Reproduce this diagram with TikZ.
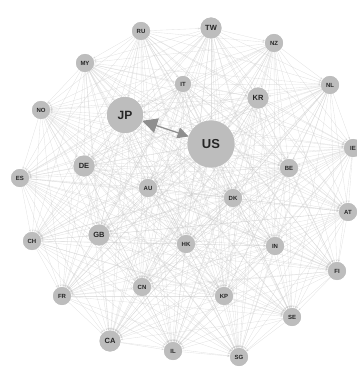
\documentclass[tikz,border=0pt]{standalone}
\usepackage{fontspec}
\setmainfont{Liberation Sans}
\usetikzlibrary{arrows.meta}
\definecolor{nodegray}{HTML}{BDBDBD}
\definecolor{edgegray}{HTML}{C8C8C8}
\definecolor{arrowgray}{HTML}{8E8E8E}
\tikzset{
  cn/.style={circle, fill=nodegray, inner sep=0pt, minimum size=18pt, font=\bfseries\fontsize{6}{6}\selectfont, text=black!85},
  cnm/.style={cn, minimum size=21pt, font=\bfseries\fontsize{7.5}{7.5}\selectfont},
  cnb/.style={cn, minimum size=36pt, font=\bfseries\fontsize{12}{12}\selectfont},
  cnbb/.style={cn, minimum size=47pt, font=\bfseries\fontsize{13}{13}\selectfont},
  lnk/.style={draw=edgegray, line width=0.35pt, opacity=0.5, -{Stealth[length=2.5pt,width=2pt]}},
  big/.style={draw=arrowgray, line width=1.2pt, {Triangle[length=15pt,width=15pt]}-{Triangle[length=11pt,width=11pt]}}
}
\begin{document}
\begin{tikzpicture}[x=1pt,y=-1pt]
\useasboundingbox (0,0) rectangle (356,374);
% nodes
\node[cn]   (RU) at (141,31) {RU};
\node[cnm]  (TW) at (211,28) {TW};
\node[cn]   (NZ) at (274,43) {NZ};
\node[cn]   (MY) at (85,63) {MY};
\node[cn, minimum size=16pt]   (IT) at (183,84) {IT};
\node[cn]   (NL) at (330,85) {NL};
\node[cnm]  (KR) at (258,98) {KR};
\node[cnb]  (JP) at (125,115) {JP};
\node[cnbb] (US) at (211,144) {US};
\node[cn]   (NO) at (41,110) {NO};
\node[cn]   (IE) at (353,148) {IE};
\node[cnm]  (DE) at (84,166) {DE};
\node[cn]   (BE) at (289,168) {BE};
\node[cn]   (ES) at (20,178) {ES};
\node[cn]   (AU) at (148,188) {AU};
\node[cn]   (DK) at (233,198) {DK};
\node[cn]   (AT) at (348,212) {AT};
\node[cn]   (CH) at (32,241) {CH};
\node[cnm]  (GB) at (99,235) {GB};
\node[cn]   (HK) at (186,244) {HK};
\node[cn]   (IN) at (275,246) {IN};
\node[cn]   (FI) at (337,271) {FI};
\node[cn]   (FR) at (62,296) {FR};
\node[cn]   (CN) at (142,287) {CN};
\node[cn]   (KP) at (224,296) {KP};
\node[cn]   (SE) at (292,317) {SE};
\node[cnm]  (CA) at (110,341) {CA};
\node[cn]   (IL) at (173,351) {IL};
\node[cn]   (SG) at (239,357) {SG};
% dense web of links
\foreach \a [count=\i] in {RU,TW,NZ,MY,IT,NL,KR,JP,US,NO,IE,DE,BE,ES,AU,DK,AT,CH,GB,HK,IN,FI,FR,CN,KP,SE,CA,IL,SG}{
  \foreach \b [count=\j] in {RU,TW,NZ,MY,IT,NL,KR,JP,US,NO,IE,DE,BE,ES,AU,DK,AT,CH,GB,HK,IN,FI,FR,CN,KP,SE,CA,IL,SG}{
    \ifnum\j>\i
      \draw[lnk] (\a) -- (\b);
    \fi
  }
}
% redraw nodes on top of the links
\node[cn]   at (RU) {RU};
\node[cnm]  at (TW) {TW};
\node[cn]   at (NZ) {NZ};
\node[cn]   at (MY) {MY};
\node[cn, minimum size=16pt] at (IT) {IT};
\node[cn]   at (NL) {NL};
\node[cnm]  at (KR) {KR};
\node[cnb]  at (JP) {JP};
\node[cnbb] at (US) {US};
\node[cn]   at (NO) {NO};
\node[cn]   at (IE) {IE};
\node[cnm]  at (DE) {DE};
\node[cn]   at (BE) {BE};
\node[cn]   at (ES) {ES};
\node[cn]   at (AU) {AU};
\node[cn]   at (DK) {DK};
\node[cn]   at (AT) {AT};
\node[cn]   at (CH) {CH};
\node[cnm]  at (GB) {GB};
\node[cn]   at (HK) {HK};
\node[cn]   at (IN) {IN};
\node[cn]   at (FI) {FI};
\node[cn]   at (FR) {FR};
\node[cn]   at (CN) {CN};
\node[cn]   at (KP) {KP};
\node[cn]   at (SE) {SE};
\node[cnm]  at (CA) {CA};
\node[cn]   at (IL) {IL};
\node[cn]   at (SG) {SG};
% JP <-> US
\draw[big] (JP) -- (US);
\end{tikzpicture}
\end{document}
